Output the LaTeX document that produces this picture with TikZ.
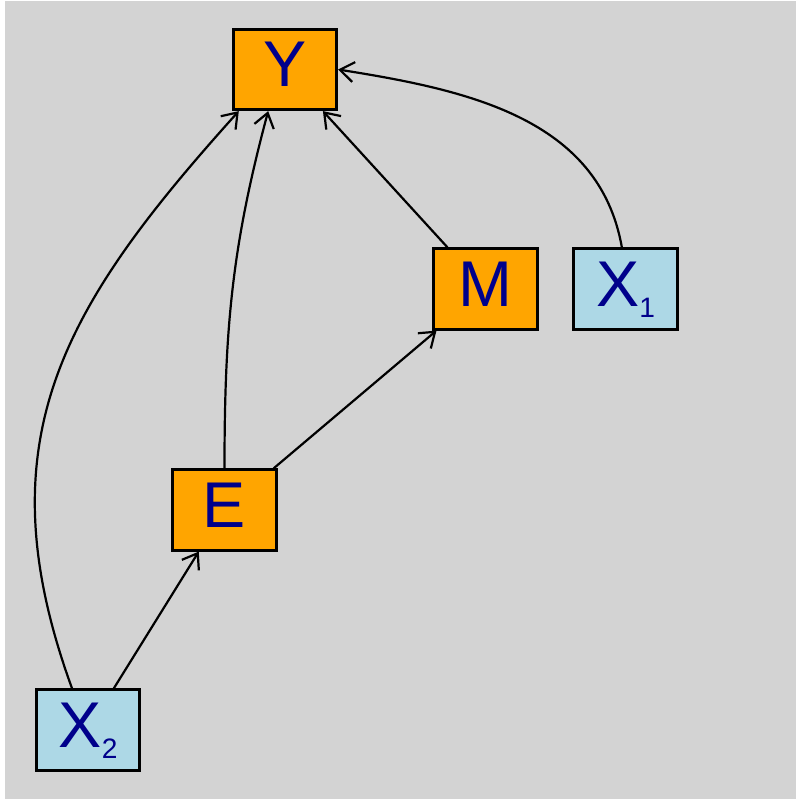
\documentclass[tikz,border=0pt]{standalone}
\usepackage{fontspec}
\setmainfont{Liberation Sans}
\usetikzlibrary{arrows.meta}

\definecolor{bggray}{HTML}{D3D3D3}
\definecolor{boxorange}{HTML}{FFA500}
\definecolor{boxblue}{HTML}{ADD8E6}
\definecolor{txtblue}{HTML}{00008B}

\newcommand{\lowsub}[1]{\raisebox{-0.28cm}{\fontsize{20}{22}\selectfont #1}}

\tikzset{
    var/.style={draw, line width=0.07cm, minimum width=2.58cm, minimum height=2.01cm,
        inner sep=0pt, text=txtblue, font=\fontsize{46}{50}\selectfont,
        text height=1.175cm, text depth=0.3cm},
    endo/.style={var, fill=boxorange},
    exo/.style={var, fill=boxblue},
    link/.style={line width=0.055cm, -{Straight Barb[length=3.5mm,width=5mm]}}
}

\begin{document}
\begin{tikzpicture}[x=0.025cm,y=-0.025cm]

\useasboundingbox (0,0) rectangle (796,799);
\fill [bggray] (5,1) rectangle (796,799);

\node [endo] (Y) at (285,69.5) {Y};
\node [endo] (M) at (485.5,289) {M};
\node [exo] (X1) at (625.5,289) {X\lowsub{1}};
\node [endo] (E) at (224.5,510) {E};
\node [exo] (X2) at (88,730) {X\lowsub{2}};

\draw [link] (X2) -- (E);
\draw [link] (E) -- (M);
\draw [link] (M) -- (Y);
\draw [link] (E.north) to [out=90,in=-105] (Y.-112);
\draw [link] (X2.111) to [out=110,in=-132,looseness=1.12] (Y.-138);
\draw [link] (X1.95) to [out=100,in=-9] (Y.east);

\end{tikzpicture}
\end{document}
